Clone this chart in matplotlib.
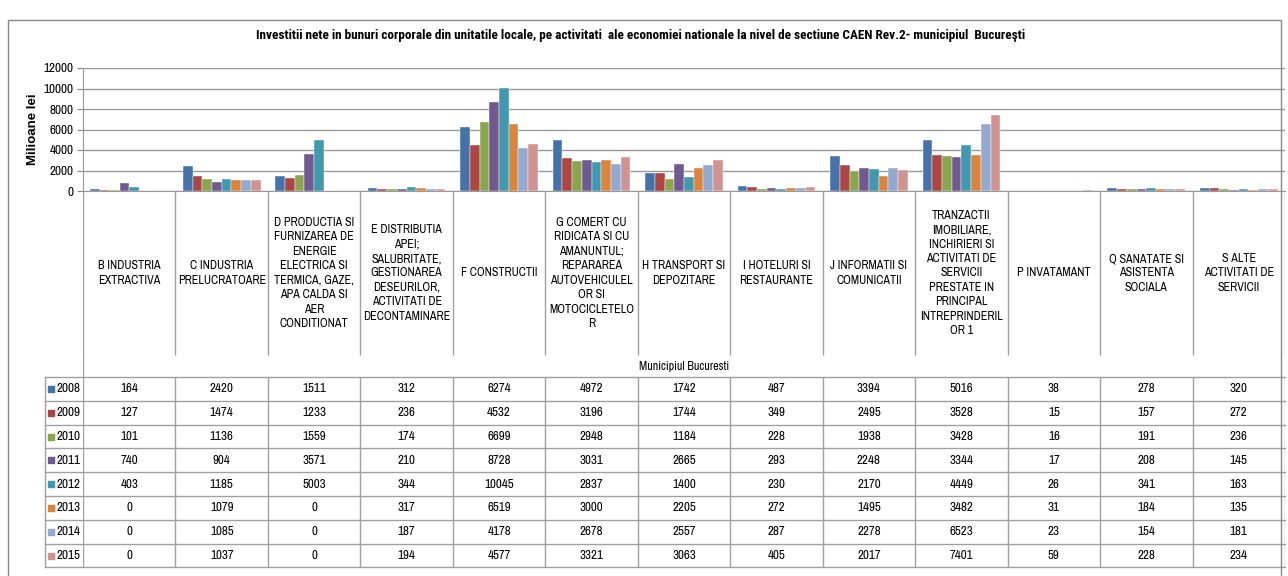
import matplotlib.pyplot as plt
import numpy as np
from matplotlib.patches import Rectangle

plt.rcParams['font.family'] = ['Archivo Narrow', 'Roboto Condensed', 'Liberation Sans', 'DejaVu Sans']

years = ['2008', '2009', '2010', '2011', '2012', '2013', '2014', '2015']
categories = [
    'B INDUSTRIA\nEXTRACTIVA',
    'C INDUSTRIA\nPRELUCRATOARE',
    'D PRODUCTIA SI\nFURNIZAREA DE\nENERGIE\nELECTRICA SI\nTERMICA, GAZE,\nAPA CALDA SI\nAER\nCONDITIONAT',
    'E DISTRIBUTIA\nAPEI;\nSALUBRITATE,\nGESTIONAREA\nDESEURILOR,\nACTIVITATI DE\nDECONTAMINARE',
    'F CONSTRUCTII',
    'G COMERT CU\nRIDICATA SI CU\nAMANUNTUL;\nREPARAREA\nAUTOVEHICULEL\nOR SI\nMOTOCICLETELO\nR',
    'H TRANSPORT SI\nDEPOZITARE',
    'I HOTELURI SI\nRESTAURANTE',
    'J INFORMATII SI\nCOMUNICATII',
    'TRANZACTII\nIMOBILIARE,\nINCHIRIERI SI\nACTIVITATI DE\nSERVICII\nPRESTATE IN\nPRINCIPAL\nINTREPRINDERIL\nOR 1',
    'P INVATAMANT',
    'Q SANATATE SI\nASISTENTA\nSOCIALA',
    'S ALTE\nACTIVITATI DE\nSERVICII',
]

v2008 = [164, 2420, 1511, 312, 6274, 4972, 1742, 487, 3394, 5016, 38, 278, 320]
v2009 = [127, 1474, 1233, 236, 4532, 3196, 1744, 349, 2495, 3528, 15, 157, 272]
v2010 = [101, 1136, 1559, 174, 6699, 2948, 1184, 228, 1938, 3428, 16, 191, 236]
v2011 = [740, 904, 3571, 210, 8728, 3031, 2665, 293, 2248, 3344, 17, 208, 145]
v2012 = [403, 1185, 5003, 344, 10045, 2837, 1400, 230, 2170, 4449, 26, 341, 163]
v2013 = [0, 1079, 0, 317, 6519, 3000, 2205, 272, 1495, 3482, 31, 184, 135]
v2014 = [0, 1085, 0, 187, 4178, 2678, 2557, 287, 2278, 6523, 23, 154, 181]
v2015 = [0, 1037, 0, 194, 4577, 3321, 3063, 405, 2017, 7401, 59, 228, 234]
series = [v2008, v2009, v2010, v2011, v2012, v2013, v2014, v2015]

colors = ['#4572A7', '#AA4643', '#89A54E', '#71588F',
          '#4198AF', '#DB843D', '#93A9CF', '#D19392']

W, H = 1288, 576
fig = plt.figure(figsize=(W / 100, H / 100), dpi=100)


def box(x0, y0, x1, y1):
    # pixel box (top-left origin) -> figure fraction
    return [x0 / W, 1 - y1 / H, (x1 - x0) / W, (y1 - y0) / H]


# outer frame
fig.patches.append(Rectangle((8 / W, -0.01), (1281 - 8) / W, 1 - 20 / H + 0.01,
                             transform=fig.transFigure, fill=False,
                             edgecolor='#888888', linewidth=1))

fig.text(641 / W, 1 - 35 / H,
         'Investitii nete in bunuri corporale din unitatile locale, pe activitati  ale economiei '
         'nationale la nivel de sectiune CAEN Rev.2- municipiul  Bucureşti',
         ha='center', va='center', fontsize=9.5, fontweight='bold',
         family=['Roboto Condensed', 'Liberation Sans', 'DejaVu Sans'])

n = len(categories)
x = np.arange(n) + 0.5
bw = 0.105

ax = fig.add_axes(box(83, 68, 1285, 191))
for i, (vals, c) in enumerate(zip(series, colors)):
    ax.bar(x + (i - 3.5) * bw, vals, bw, color=c, edgecolor='white', linewidth=0.3, zorder=3)
ax.set_xlim(0, n)
ax.set_ylim(0, 12000)
ax.set_yticks(np.arange(0, 12001, 2000))
ax.tick_params(axis='y', labelsize=9.5, length=4, color='#888888', pad=3)
ax.set_xticks([])
ax.grid(axis='y', color='#999999', linewidth=1, zorder=0)
for s in ['top', 'right']:
    ax.spines[s].set_visible(False)
ax.spines['left'].set_color('#999999')
ax.spines['bottom'].set_color('#999999')
ax.set_ylabel('Milioane lei', fontsize=9.5, fontweight='bold', family='Liberation Sans', labelpad=3)

# category labels + data table
tb = fig.add_axes(box(83, 191, 1285, 576))
tb.set_xlim(0, n)
tb.set_ylim(576, 191)
tb.axis('off')

line_c = '#a0a0a0'
tb.vlines(np.arange(0, n + 1), 191, 355, color=line_c, linewidth=1)
tb.vlines(0, 355, 378, color=line_c, linewidth=1)
for i, lab in enumerate(categories):
    tb.text(x[i], 273, lab, ha='center', va='center', fontsize=8.7, linespacing=1.38)
tb.text(n / 2, 367, 'Municipiul Bucuresti', ha='center', va='center', fontsize=8.7)

row_h = 23.8
top = 377
left = -38 / 92.46
for r in range(len(years) + 1):
    tb.plot([left, n], [top + r * row_h] * 2, color=line_c, linewidth=1, clip_on=False)
tb.vlines(np.arange(0, n + 1), top, top + len(years) * row_h, color=line_c, linewidth=1)
tb.plot([left, left], [top, top + len(years) * row_h], color=line_c, linewidth=1, clip_on=False)

for r, (yr, vals, c) in enumerate(zip(years, series, colors)):
    yc = top + (r + 0.5) * row_h
    tb.scatter([left + 0.07], [yc], marker='s', s=22, color=c, clip_on=False)
    tb.text(left + 0.12, yc, yr, ha='left', va='center', fontsize=9.5, clip_on=False)
    for i, v in enumerate(vals):
        tb.text(x[i], yc, str(v), ha='center', va='center', fontsize=9.3)

fig.savefig('out.png', dpi=100)
